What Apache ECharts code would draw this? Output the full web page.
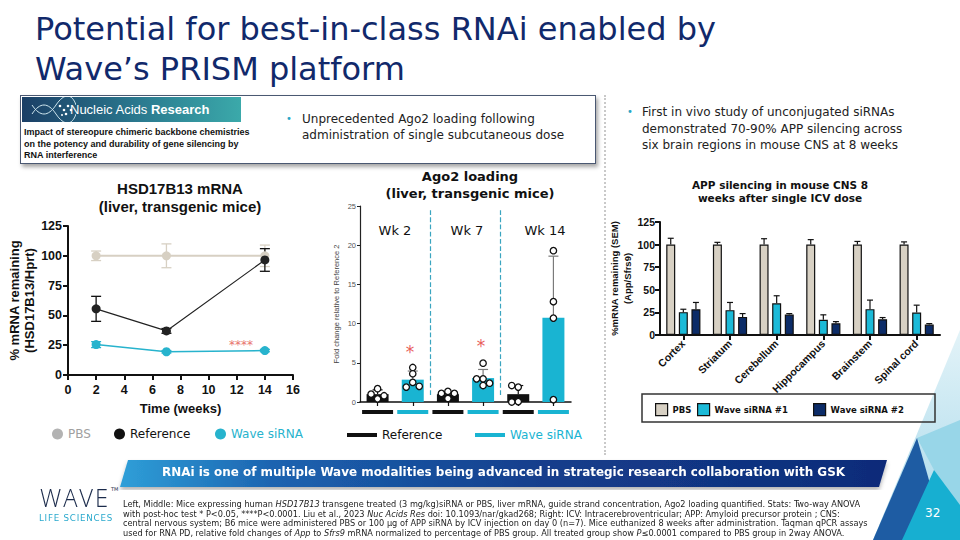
<!DOCTYPE html>
<html>
<head>
<meta charset="utf-8">
<script src="https://cdn.jsdelivr.net/npm/echarts@6/dist/echarts.min.js"></script>
<style>
  body { margin: 0; }
  .slide { position: relative; width: 960px; height: 540px; background: #fff; overflow: hidden; font-family: 'DejaVu Sans', sans-serif; }
  .abs { position: absolute; white-space: nowrap; }
  #chart { position: absolute; left: 0; top: 0; width: 960px; height: 540px; z-index: 5; }
  #title { left: 35px; top: 9px; font: 32px/40px 'DejaVu Sans'; color: #11296b; }
  #paper { left: 20px; top: 95px; width: 574px; height: 67px; border: 1px solid #4a5872; box-shadow: 2px 3px 4px rgba(0,0,0,.35); background: #fff; }
  #journal { left: 22px; top: 97px; width: 219px; height: 25px; background: linear-gradient(90deg, #1b3f66, #2b7b90 55%, #3ba9aa); }
  #journal span { position: absolute; left: 48px; top: 5px; font: 13px 'Liberation Sans'; color: #fff; }
  #paperText { left: 24px; top: 127px; font: bold 9px/11.5px 'Liberation Sans'; color: #111; }
  .bullet { font: 12px/16px 'DejaVu Sans'; color: #222; }
  .dot { font: 10px/16px 'DejaVu Sans'; color: #2aa6c6; }
  #sep { left: 604px; top: 95px; height: 360px; border-left: 2px dotted #c9c9c9; }
  #banner { left: 162px; top: 464px; font: bold 13px/16px 'DejaVu Sans Condensed', 'DejaVu Sans'; font-stretch: condensed; color: #fff; transform-origin: left center; }
  .fn { left: 123px; font: 8px/9.5px 'DejaVu Sans Condensed', 'DejaVu Sans'; font-stretch: condensed; color: #222; transform-origin: left center; }
  #logo { left: 40px; top: 485px; font: 300 25px/25px 'Open Sans', 'DejaVu Sans'; color: #1b2b4b; letter-spacing: 2px; transform-origin: left center; }
  #tm { left: 111px; top: 486px; font: 5px 'DejaVu Sans'; color: #1b2b4b; }
  #life { left: 39px; top: 512px; font: 9px/12px 'DejaVu Sans'; color: #2aa9cd; letter-spacing: 0.8px; transform-origin: left center; }
  #page { left: 925px; top: 505px; font: 12px/16px 'DejaVu Sans'; color: #fff; z-index: 6; }
</style>
</head>
<body>
<div class="slide">
  <svg class="abs" width="960" height="540" style="left:0;top:0">
    <defs>
      <linearGradient id="gBanner" x1="0" x2="1" y1="0" y2="0">
        <stop offset="0" stop-color="#2f9fd8"/><stop offset="0.2" stop-color="#1c63b0"/>
        <stop offset="0.55" stop-color="#143e8c"/><stop offset="1" stop-color="#0e2b79"/>
      </linearGradient>
      <linearGradient id="gPale" x1="0" y1="0" x2="0" y2="1">
        <stop offset="0" stop-color="#e3f3f8"/><stop offset="1" stop-color="#a6d8ea"/>
      </linearGradient>
      <filter id="sh"><feDropShadow dx="0" dy="3" stdDeviation="2" flood-opacity="0.3"/></filter>
    </defs>
    <polygon points="128,460 887,460 879,487 120,487" fill="url(#gBanner)" filter="url(#sh)"/>
    <polygon points="960,330 960,540 873,540" fill="url(#gPale)"/>
    <polygon points="917,438 960,420 960,510 934,470" fill="#98d6e8"/>
    <polygon points="917,438 873,540 946,540" fill="#1e5ca3"/>
    <polygon points="934,470 902,540 960,540 960,505" fill="#17afd1"/>
  </svg>

  <div id="title" class="abs">Potential for best-in-class RNAi enabled by<br>Wave’s PRISM platform</div>

  <div id="paper" class="abs"></div>
  <div id="journal" class="abs">
    <svg width="46" height="25" style="position:absolute;left:8px;top:0">
      <path d="M2 8 C10 20, 18 20, 26 8 S42 -4, 46 8" stroke="#cfe6ee" stroke-width="1" fill="none"/>
      <path d="M2 17 C10 5, 18 5, 26 17 S42 29, 46 17" stroke="#cfe6ee" stroke-width="1" fill="none"/>
      <circle cx="30" cy="9" r="1.3" fill="#fff"/><circle cx="34" cy="13" r="1.3" fill="#fff"/>
      <circle cx="38" cy="9" r="1.3" fill="#fff"/><circle cx="36" cy="17" r="1.3" fill="#fff"/>
      <circle cx="41" cy="13" r="1.3" fill="#fff"/><circle cx="32" cy="18" r="1" fill="#fff"/>
    </svg>
    <span>Nucleic Acids <b>Research</b></span>
  </div>
  <div id="paperText" class="abs">Impact of stereopure chimeric backbone chemistries<br>on the potency and durability of gene silencing by<br>RNA interference</div>

  <div class="abs dot" style="left:286px;top:111px">•</div>
  <div class="abs bullet" style="left:302px;top:111px">Unprecedented Ago2 loading following<br>administration of single subcutaneous dose</div>

  <div id="sep" class="abs"></div>

  <div class="abs dot" style="left:627px;top:104px">•</div>
  <div class="abs bullet" style="left:642px;top:104px;line-height:16.5px">First in vivo study of unconjugated siRNAs<br>demonstrated 70-90% APP silencing across<br>six brain regions in mouse CNS at 8 weeks</div>

  <div id="banner" class="abs">RNAi is one of multiple Wave modalities being advanced in strategic research collaboration with GSK</div>

  <div id="logo" class="abs">WAVE</div>
  <div id="tm" class="abs">TM</div>
  <div id="life" class="abs">LIFE SCIENCES</div>

  <div id="fn1" class="abs fn" style="top:500px">Left, Middle: Mice expressing human <i>HSD17B13</i> transgene treated (3 mg/kg)siRNA or PBS, liver mRNA, guide strand concentration, Ago2 loading quantified. Stats: Two-way ANOVA</div>
  <div id="fn2" class="abs fn" style="top:509.5px">with post-hoc test * P&lt;0.05, ****P&lt;0.0001. Liu et al., 2023 <i>Nuc Acids Res</i> doi: 10.1093/nar/gkad268; Right: ICV: Intracerebroventricular; APP: Amyloid precursor protein ; CNS:</div>
  <div id="fn3" class="abs fn" style="top:519px">central nervous system; B6 mice were administered PBS or 100 µg of APP siRNA by ICV injection on day 0 (n=7). Mice euthanized 8 weeks after administration. Taqman qPCR assays</div>
  <div id="fn4" class="abs fn" style="top:528.5px">used for RNA PD, relative fold changes of <i>App</i> to <i>Sfrs9</i> mRNA normalized to percentage of PBS group. All treated group show <i>P</i>≤0.0001 compared to PBS group in 2way ANOVA.</div>

  <div id="page" class="abs">32</div>
  <div id="chart"></div>
</div>

<script>
// fonts
const ARIAL = 'Liberation Sans';
const VERDANA = 'DejaVu Sans';

// colours
const PBS_C = '#d7d0c3';
const REF_C = '#111111';
const WAVE_C = '#19b4d2';
const NAVY_C = '#0c2c68';

// ---- HSD17B13 mRNA (left) ----
const weeks = [2, 7, 14];
const pbsMean = [100, 100, 100];
const pbsErr = [4, 10, 9];
const refMean = [55.5, 37, 96.5];
const refErr = [10.5, 2, 9.5];
const waveMean = [25.5, 19.5, 20.5];
const waveErr = [2.5, 1, 1];

// ---- Ago2 loading (middle) ----
const ago2Weeks = ['Wk 2', 'Wk 7', 'Wk 14'];
const ago2Groups = ['Reference', 'Wave siRNA'];
const ago2RefMean = [1.0, 1.0, 1.0];
const ago2RefUpper = [1.55, 1.3, 2.1];
const ago2WaveMean = [2.85, 3.05, 10.75];
const ago2WaveUpper = [3.95, 4.15, 18.6];
const ago2RefPoints = [[1.7, 1.0, 0.4, 0.8], [1.35, 1.1, 1.1, 0.45], [1.9, 2.1, 0.05, 0.0]];
const ago2WavePoints = [[4.4, 3.6, 2.5, 1.9, 2.0], [4.95, 2.95, 2.95, 2.1, 2.4], [19.3, 12.8, 10.7, 0.3]];

// ---- APP silencing (right) ----
const regions = ['Cortex', 'Striatum', 'Cerebellum', 'Hippocampus', 'Brainstem', 'Spinal cord'];
const appGroups = ['PBS', 'Wave siRNA #1', 'Wave siRNA #2'];
const appPbs = [100, 100, 100, 100, 100, 100];
const appPbsSem = [7, 2.5, 6.5, 5.5, 3.5, 3];
const appW1 = [25.3, 27.5, 35, 16.8, 28.6, 24.8];
const appW1Sem = [3.2, 8.5, 8.4, 5.5, 10, 8.2];
const appW2 = [28.5, 20, 22.6, 13, 17.4, 11.5];
const appW2Sem = [7.5, 3.7, 1.1, 1.8, 1.9, 1.1];

// squeeze a few html lines to the width they take on the slide
function fitWidth(id, w) {
  const el = document.getElementById(id);
  const k = w / el.getBoundingClientRect().width;
  el.style.transform = 'scaleX(' + k + ')';
  return k;
}
fitWidth('banner', 683);
fitWidth('logo', 70);
fitWidth('life', 74);
// footnote: one squeeze for all four lines, taken from the first one
const fnScale = fitWidth('fn1', 737);
['fn2', 'fn3', 'fn4'].forEach(id => { document.getElementById(id).style.transform = 'scaleX(' + fnScale + ')'; });

// ---- helpers ----
function errorBars(capHalf, upperOnly, width) {
  return function (params, api) {
    const x = api.value(0);
    const lo = api.coord([x, api.value(1)]);
    const hi = api.coord([x, api.value(2)]);
    const dx = api.value(3) || 0;
    const st = { stroke: api.visual('color'), lineWidth: width };
    const kids = [
      { type: 'line', shape: { x1: lo[0] + dx, y1: lo[1], x2: hi[0] + dx, y2: hi[1] }, style: st },
      { type: 'line', shape: { x1: hi[0] + dx - capHalf, y1: hi[1], x2: hi[0] + dx + capHalf, y2: hi[1] }, style: st }
    ];
    if (!upperOnly) {
      kids.push({ type: 'line', shape: { x1: lo[0] - capHalf, y1: lo[1], x2: lo[0] + capHalf, y2: lo[1] }, style: st });
    }
    return { type: 'group', children: kids };
  };
}

// simple beeswarm: column slot for each point so close values don't sit on top of each other
function swarm(values, minGap) {
  const placed = [];
  return values.map(function (v) {
    for (const k of [0, -1, 1, -2, 2]) {
      if (!placed.some(p => p.k === k && Math.abs(p.v - v) < minGap)) {
        placed.push({ v: v, k: k });
        return k;
      }
    }
    return 0;
  });
}

// ---- left series ----
function trend(name, means, color, width) {
  return {
    type: 'line', name: name, xAxisIndex: 0, yAxisIndex: 0,
    data: weeks.map((w, i) => [w, means[i]]),
    symbol: 'circle', symbolSize: 9,
    lineStyle: { color: color, width: width }, itemStyle: { color: color }, z: 3
  };
}
function trendErr(means, errs, color) {
  return {
    type: 'custom', xAxisIndex: 0, yAxisIndex: 0, itemStyle: { color: color }, z: 2,
    data: weeks.map((w, i) => [w, means[i] - errs[i], means[i] + errs[i]]),
    renderItem: errorBars(5, false, 1.3)
  };
}

// ---- middle slots (week x group) ----
const ago2Slots = [];
ago2Weeks.forEach((wk, w) => ago2Groups.forEach((g, k) => ago2Slots.push({ w: w, k: k })));
const slotNames = ago2Slots.map(s => ago2Weeks[s.w] + ' ' + ago2Groups[s.k]);
const ago2MeanBy = [ago2RefMean, ago2WaveMean];
const ago2UpperBy = [ago2RefUpper, ago2WaveUpper];
const ago2PointsBy = [ago2RefPoints, ago2WavePoints];
const ago2Colors = [REF_C, WAVE_C];

const dotData = [];
ago2Slots.forEach((s, i) => {
  const vals = ago2PointsBy[s.k][s.w];
  const ks = swarm(vals, 0.8);
  vals.forEach((v, j) => dotData.push([i, v, ks[j]]));
});

const ago2Bars = ago2Groups.map((g, k) => ({
  type: 'bar', name: g, xAxisIndex: 1, yAxisIndex: 1,
  data: ago2Slots.map(s => s.k === k ? ago2MeanBy[k][s.w] : '-'),
  barWidth: 22, barGap: '-100%', itemStyle: { color: ago2Colors[k] }, z: 2
}));
const ago2Err = ago2Groups.map((g, k) => ({
  type: 'custom', xAxisIndex: 1, yAxisIndex: 1, z: 3,
  itemStyle: { color: k === 0 ? REF_C : '#7a7a7a' },
  data: ago2Slots.map((s, i) => s.k === k ? [i, ago2MeanBy[k][s.w], ago2UpperBy[k][s.w]] : null).filter(Boolean),
  renderItem: errorBars(5, true, 1.2)
}));
const weekBounds = ago2Weeks.slice(1).map((wk, w) => (w + 1) * ago2Groups.length);

// ---- right ----
const APP_BAR_W = 9;
const APP_BAR_GAP = 0.4;
const appStep = APP_BAR_W * (1 + APP_BAR_GAP);
const appMeans = [appPbs, appW1, appW2];
const appSems = [appPbsSem, appW1Sem, appW2Sem];
const appColors = [PBS_C, '#1bbad8', NAVY_C];
const appErrData = [];
appMeans.forEach((m, s) => m.forEach((v, i) => appErrData.push([i, v, v + appSems[s][i], (s - 1) * appStep])));

const axisBlack = { lineStyle: { color: '#111', width: 2 } };
const tickBlack = { show: true, length: 5, lineStyle: { color: '#111', width: 2 } };

const chart = echarts.init(document.getElementById('chart'), null, { renderer: 'svg' });
chart.setOption({
  animation: false,
  title: [
    { text: 'HSD17B13 mRNA\n(liver, transgenic mice)', left: 180, top: 179, padding: 0, textAlign: 'center',
      textStyle: { fontFamily: ARIAL, fontWeight: 'bold', fontSize: 15, lineHeight: 18, color: '#111' } },
    { text: 'Ago2 loading\n(liver, transgenic mice)', left: 470, top: 168, padding: 0, textAlign: 'center',
      textStyle: { fontFamily: VERDANA, fontWeight: 'bold', fontSize: 13, lineHeight: 17, color: '#111' } },
    { text: 'APP silencing in mouse CNS 8\nweeks after single ICV dose', left: 780, top: 178, padding: 0, textAlign: 'center',
      textStyle: { fontFamily: VERDANA, fontWeight: 'bold', fontSize: 10.5, lineHeight: 13.5, color: '#111' } }
  ],
  grid: [
    { left: 68, top: 226, width: 225, height: 149, outerBoundsMode: 'none' },
    { left: 360, top: 206, width: 211, height: 196, outerBoundsMode: 'none' },
    { left: 660, top: 222, width: 280, height: 113, outerBoundsMode: 'none' }
  ],
  xAxis: [
    { gridIndex: 0, type: 'value', min: 0, max: 16, interval: 2,
      axisLine: axisBlack, axisTick: tickBlack, splitLine: { show: false },
      axisLabel: { fontFamily: ARIAL, fontWeight: 'bold', fontSize: 12.5, color: '#111', margin: 8 },
      name: 'Time (weeks)', nameLocation: 'middle', nameGap: 27,
      nameTextStyle: { fontFamily: ARIAL, fontWeight: 'bold', fontSize: 13, color: '#111' } },
    { gridIndex: 1, type: 'category', data: slotNames,
      axisLine: { lineStyle: { color: '#111', width: 1.5 } },
      axisTick: { show: true, alignWithLabel: true, length: 4, lineStyle: { color: '#111', width: 1.2 } },
      splitLine: { show: false },
      axisLabel: { interval: 0, margin: 8,
        formatter: (v, i) => ago2Slots[i].k === 0 ? '{r| }' : '{w| }',
        rich: { r: { backgroundColor: REF_C, width: 31, height: 4, lineHeight: 4, fontSize: 1 },
                w: { backgroundColor: WAVE_C, width: 31, height: 4, lineHeight: 4, fontSize: 1 } } } },
    { gridIndex: 1, type: 'value', min: 0, max: slotNames.length, show: false },
    { gridIndex: 2, type: 'category', data: regions,
      axisLine: axisBlack, axisTick: { show: true, alignWithLabel: true, length: 5, lineStyle: { color: '#111', width: 2 } },
      axisLabel: { interval: 0, rotate: 45, margin: 7, fontFamily: ARIAL, fontWeight: 'bold', fontSize: 10.5, color: '#111' } }
  ],
  yAxis: [
    { gridIndex: 0, type: 'value', min: 0, max: 125, interval: 25,
      axisLine: { show: true, lineStyle: { color: '#111', width: 2 } }, axisTick: tickBlack, splitLine: { show: false },
      axisLabel: { fontFamily: ARIAL, fontWeight: 'bold', fontSize: 12.5, color: '#111', margin: 6 },
      name: '% mRNA remaining\n(HSD17B13/Hprt)', nameLocation: 'middle', nameGap: 27,
      nameTextStyle: { fontFamily: ARIAL, fontWeight: 'bold', fontSize: 13, lineHeight: 15, color: '#111' } },
    { gridIndex: 1, type: 'value', min: 0, max: 25, interval: 5,
      axisLine: { show: true, lineStyle: { color: '#222', width: 1.2 } },
      axisTick: { show: true, length: 3, lineStyle: { color: '#222', width: 1 } }, splitLine: { show: false },
      axisLabel: { fontFamily: ARIAL, fontSize: 7.5, color: '#555', margin: 4 },
      name: 'Fold change relative to Reference 2', nameLocation: 'middle', nameGap: 20,
      nameTextStyle: { fontFamily: ARIAL, fontSize: 7.5, color: '#444' } },
    { gridIndex: 2, type: 'value', min: 0, max: 125, interval: 25,
      axisLine: { show: true, lineStyle: { color: '#111', width: 2 } }, axisTick: tickBlack, splitLine: { show: false },
      axisLabel: { fontFamily: ARIAL, fontWeight: 'bold', fontSize: 10.5, color: '#111', margin: 5 },
      name: '%mRNA remaining (SEM)\n(App/Sfrs9)', nameLocation: 'middle', nameGap: 17,
      nameTextStyle: { fontFamily: ARIAL, fontWeight: 'bold', fontSize: 9.5, lineHeight: 13, color: '#111' } }
  ],
  legend: [
    { data: [{ name: 'PBS', icon: 'circle', itemStyle: { color: '#b3b3b3' }, textStyle: { color: '#a0a0a0' } }],
      left: 52, top: 428, itemWidth: 11, itemHeight: 11, selectedMode: false, padding: 0,
      textStyle: { fontFamily: VERDANA, fontSize: 12 } },
    { data: [{ name: 'Reference', icon: 'circle', itemStyle: { color: REF_C }, textStyle: { color: REF_C } }],
      left: 114, top: 428, itemWidth: 11, itemHeight: 11, selectedMode: false, padding: 0,
      textStyle: { fontFamily: VERDANA, fontSize: 12 } },
    { data: [{ name: 'Wave siRNA', icon: 'circle', itemStyle: { color: '#27b3cd' }, textStyle: { color: '#27b3cd' } }],
      left: 215, top: 428, itemWidth: 11, itemHeight: 11, selectedMode: false, padding: 0,
      textStyle: { fontFamily: VERDANA, fontSize: 12 } },
    { data: [{ name: 'Reference', icon: 'rect', itemStyle: { color: REF_C }, textStyle: { color: REF_C } }],
      left: 347, top: 429, itemWidth: 30, itemHeight: 4, selectedMode: false, padding: 0,
      textStyle: { fontFamily: VERDANA, fontSize: 12 } },
    { data: [{ name: 'Wave siRNA', icon: 'rect', itemStyle: { color: WAVE_C }, textStyle: { color: WAVE_C } }],
      left: 475, top: 429, itemWidth: 30, itemHeight: 4, selectedMode: false, padding: 0,
      textStyle: { fontFamily: VERDANA, fontSize: 12 } }
  ].concat(appGroups.map((g, s) => ({
    data: [{ name: g, icon: 'rect', itemStyle: { color: appColors[s], borderColor: '#111', borderWidth: 1.2 } }],
    left: [655, 697, 813][s], top: 403, itemWidth: 12, itemHeight: 12, selectedMode: false, padding: 0,
    textStyle: { fontFamily: VERDANA, fontWeight: 'bold', fontSize: 8.5, color: '#111' }
  }))),
  graphic: [
    { type: 'rect', shape: { x: 642, y: 394, width: 293, height: 28 }, style: { fill: 'none', stroke: '#333', lineWidth: 1.5 }, z: 10 },
    { type: 'text', x: 395, y: 230, style: { text: ago2Weeks[0], font: '13px "DejaVu Sans"', fill: '#111', textAlign: 'center', textVerticalAlign: 'middle' }, z: 10 },
    { type: 'text', x: 467, y: 230, style: { text: ago2Weeks[1], font: '13px "DejaVu Sans"', fill: '#111', textAlign: 'center', textVerticalAlign: 'middle' }, z: 10 },
    { type: 'text', x: 545, y: 230, style: { text: ago2Weeks[2], font: '13px "DejaVu Sans"', fill: '#111', textAlign: 'center', textVerticalAlign: 'middle' }, z: 10 },
    { type: 'text', x: 241, y: 345, style: { text: '****', font: '12px "DejaVu Sans"', fill: '#e8736d', textAlign: 'center', textVerticalAlign: 'middle' }, z: 10 },
    { type: 'text', x: 410, y: 352, style: { text: '*', font: '17px "DejaVu Sans"', fill: '#e8605a', textAlign: 'center', textVerticalAlign: 'middle' }, z: 10 },
    { type: 'text', x: 481, y: 346, style: { text: '*', font: '17px "DejaVu Sans"', fill: '#e8605a', textAlign: 'center', textVerticalAlign: 'middle' }, z: 10 }
  ],
  series: [
    trendErr(pbsMean, pbsErr, PBS_C),
    trendErr(refMean, refErr, REF_C),
    trendErr(waveMean, waveErr, '#27b3cd'),
    trend('PBS', pbsMean, PBS_C, 2),
    trend('Reference', refMean, '#222', 1.2),
    trend('Wave siRNA', waveMean, '#27b3cd', 1.5)
  ].concat(ago2Bars, ago2Err, [
    { type: 'custom', xAxisIndex: 1, yAxisIndex: 1, z: 6, data: dotData,
      renderItem: function (params, api) {
        const c = api.coord([api.value(0), api.value(1)]);
        return { type: 'circle', shape: { cx: c[0] + api.value(2) * 6.5, cy: c[1], r: 3.2 },
          style: { fill: '#fff', stroke: '#111', lineWidth: 1.3 } };
      } },
    { type: 'line', name: 'weeks', xAxisIndex: 2, yAxisIndex: 1, data: [], silent: true,
      markLine: { silent: true, symbol: ['none', 'none'], label: { show: false },
        lineStyle: { color: '#3aa5c0', type: 'dashed', width: 1.2 },
        data: weekBounds.map(b => [{ coord: [b, 0.9] }, { coord: [b, 24.5] }]) } }
  ], appGroups.map((g, s) => ({
    type: 'bar', name: g, xAxisIndex: 3, yAxisIndex: 2, data: appMeans[s],
    barWidth: APP_BAR_W, barGap: (APP_BAR_GAP * 100) + '%',
    itemStyle: { color: appColors[s], borderColor: '#111', borderWidth: 1.2 }, z: 2
  })), [
    { type: 'custom', xAxisIndex: 3, yAxisIndex: 2, z: 3, itemStyle: { color: '#111' },
      data: appErrData, renderItem: errorBars(3, true, 1.2) }
  ])
});
</script>
</body>
</html>
